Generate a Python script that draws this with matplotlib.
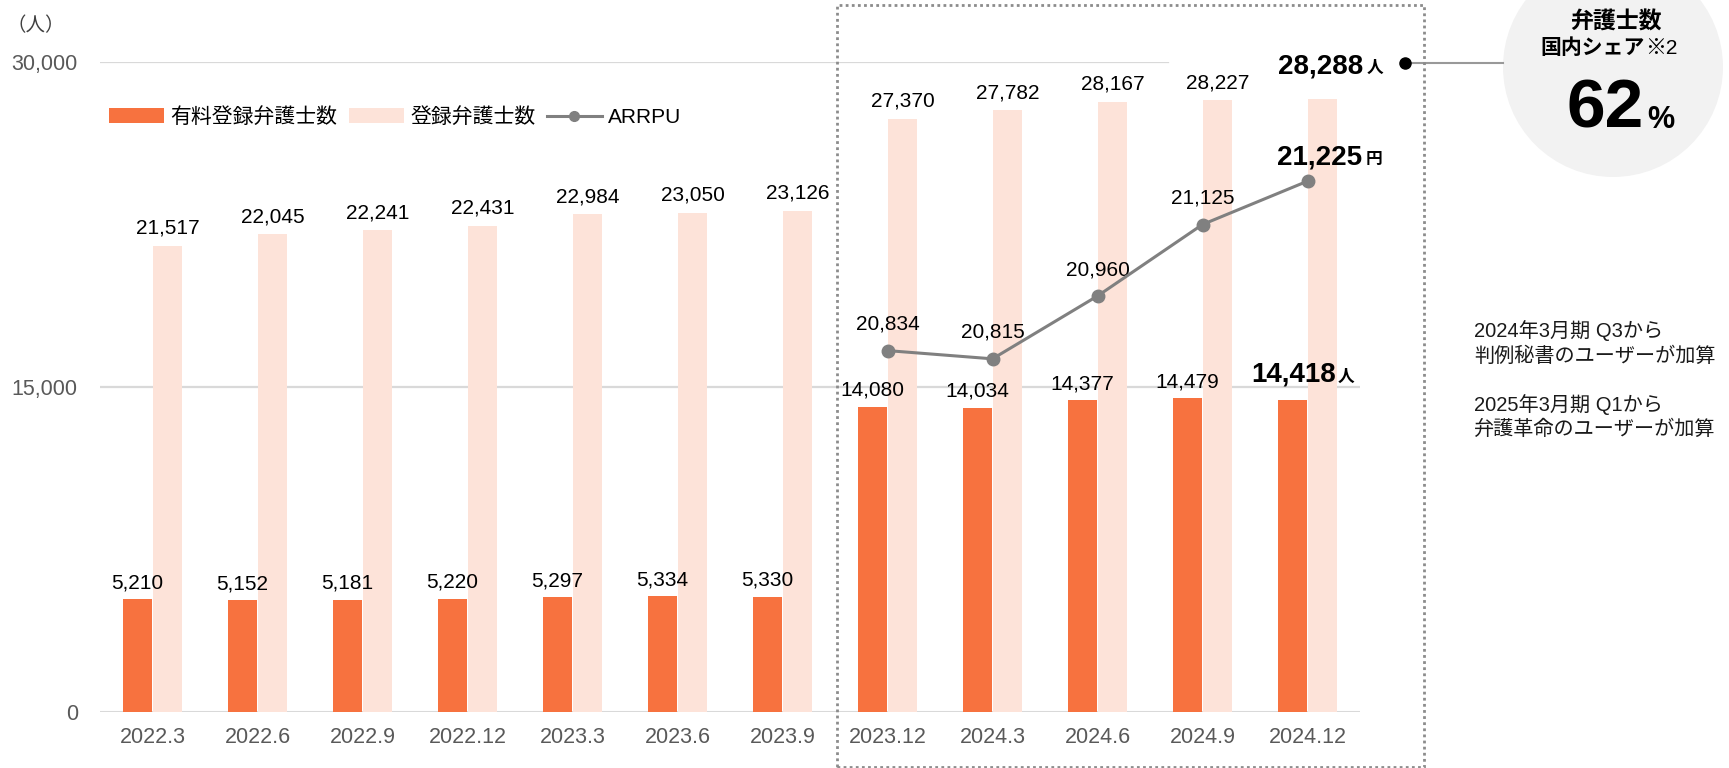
import matplotlib
matplotlib.use("Agg")
import matplotlib.pyplot as plt
from matplotlib.patches import Patch, Rectangle, Ellipse
from matplotlib.lines import Line2D

plt.rcParams['font.family'] = ['Liberation Sans', 'Noto Sans CJK JP', 'DejaVu Sans']

# data
periods = ['2022.3', '2022.6', '2022.9', '2022.12', '2023.3', '2023.6', '2023.9',
           '2023.12', '2024.3', '2024.6', '2024.9', '2024.12']
paid_users = [5210, 5152, 5181, 5220, 5297, 5334, 5330,
              14080, 14034, 14377, 14479, 14418]
registered = [21517, 22045, 22241, 22431, 22984, 23050, 23126,
              27370, 27782, 28167, 28227, 28288]
arrpu_idx = [7, 8, 9, 10, 11]
arrpu = [20834, 20815, 20960, 21125, 21225]

ORANGE = '#F7723F'
PINK = '#FDE3D9'
GRAY_LINE = '#808080'
TICK_GRAY = '#595959'
W, H = 1729, 768

fig = plt.figure(figsize=(W / 100, H / 100), dpi=100)
ax = fig.add_axes([100 / W, 1 - 712 / H, 1260 / W, 650 / H])

x = list(range(len(periods)))
bw = 0.28
xo = [i - 0.145 for i in x]
xp = [i + 0.145 for i in x]
ax.bar(xo, paid_users, width=bw, color=ORANGE, zorder=3)
ax.bar(xp, registered, width=bw, color=PINK, zorder=3)

ax.set_xlim(-0.5, len(periods) - 0.5)
ax.set_ylim(0, 30000)
ax.set_yticks([0, 15000, 30000])
ax.set_yticklabels(['0', '15,000', '30,000'])
ax.set_xticks(x)
ax.set_xticklabels(periods)
ax.tick_params(axis='both', length=0, labelsize=15.5, labelcolor=TICK_GRAY)
ax.tick_params(axis='y', pad=16)
ax.tick_params(axis='x', pad=11)
for s in ax.spines.values():
    s.set_visible(False)

# gridlines (top one is cut short by the highlighted label)
ax.axhline(0, color='#d9d9d9', lw=2.2, zorder=1)
ax.axhline(15000, color='#d9d9d9', lw=1.6, zorder=1)
ax.axhline(30000, xmax=0.848, color='#d9d9d9', lw=1.6, zorder=1)

# value labels
last = len(periods) - 1
for i in x:
    if i == last:
        continue
    ax.annotate(f'{paid_users[i]:,}', (xo[i], paid_users[i]), xytext=(0, 11),
                textcoords='offset pixels', ha='center', va='baseline', fontsize=15)
    ax.annotate(f'{registered[i]:,}', (xp[i], registered[i]), xytext=(0, 12),
                textcoords='offset pixels', ha='center', va='baseline', fontsize=15)

# highlighted last values
ax.annotate(f'{paid_users[last]:,}', (xo[last], paid_users[last]), xytext=(1, 18),
            textcoords='offset pixels', ha='center', va='baseline', fontsize=20, fontweight='bold')
ax.annotate('人', (xo[last], paid_users[last]), xytext=(45, 18),
            textcoords='offset pixels', ha='left', va='baseline', fontsize=12, fontweight='bold')
ax.annotate(f'{registered[last]:,}', (xp[last], registered[last]), xytext=(-2, 26),
            textcoords='offset pixels', ha='center', va='baseline', fontsize=20, fontweight='bold')
ax.annotate('人', (xp[last], registered[last]), xytext=(44, 26),
            textcoords='offset pixels', ha='left', va='baseline', fontsize=12, fontweight='bold')

# ARRPU line on hidden secondary axis
ax2 = ax.twinx()
ax2.set_ylim(20000, 21500)
ax2.axis('off')
ax2.plot(arrpu_idx, arrpu, color=GRAY_LINE, lw=2.2, marker='o', markersize=9, zorder=4)
for k, (i, v) in enumerate(zip(arrpu_idx, arrpu)):
    if k == len(arrpu) - 1:
        ax2.annotate(f'{v:,}', (i, v), xytext=(12, 17), textcoords='offset pixels',
                     ha='center', va='baseline', fontsize=20, fontweight='bold')
        ax2.annotate('円', (i, v), xytext=(58, 17), textcoords='offset pixels',
                     ha='left', va='baseline', fontsize=12, fontweight='bold')
    else:
        ax2.annotate(f'{v:,}', (i, v), xytext=(0, 21), textcoords='offset pixels',
                     ha='center', va='baseline', fontsize=15)

# legend
handles = [Patch(facecolor=ORANGE, edgecolor='none'),
           Patch(facecolor=PINK, edgecolor='none'),
           Line2D([], [], color=GRAY_LINE, lw=2.2, marker='o', markersize=7)]
fig.legend(handles, ['有料登録弁護士数', '登録弁護士数', 'ARRPU'], ncol=3,
           loc='center left', bbox_to_anchor=(109 / W, 1 - 117 / H), frameon=False,
           fontsize=15, handlelength=2.64, handleheight=0.72, handletextpad=0.3,
           columnspacing=0.55, borderpad=0, borderaxespad=0)

# unit label
fig.text(6 / W, 1 - 26 / H, '（人）', fontsize=14, color='#404040', va='center', ha='left')

# dotted highlight box
fig.patches.append(Rectangle((837 / W, 1 - 767 / H), (1424 - 837) / W, 762 / H,
                             transform=fig.transFigure, fill=False, edgecolor='#8c8c8c',
                             lw=2, linestyle=(0, (1, 1.2)), zorder=5))

# share circle
fig.patches.append(Ellipse((1613 / W, 1 - 67 / H), 220 / W, 220 / H,
                           transform=fig.transFigure, facecolor='#f2f2f2',
                           edgecolor='none', zorder=0))
fig.add_artist(Line2D([1405 / W, 1503 / W], [1 - 63 / H, 1 - 63 / H],
                      transform=fig.transFigure, color='#999999', lw=1.5))
fig.add_artist(Line2D([1405 / W], [1 - 63 / H], transform=fig.transFigure,
                      color='black', marker='o', markersize=8, lw=0))
fig.text(1616 / W, 1 - 22 / H, '弁護士数', fontsize=16.5, fontweight='bold',
         ha='center', va='center')
fig.text(1645 / W, 1 - 48 / H, '国内シェア', fontsize=15, fontweight='bold',
         ha='right', va='center')
fig.text(1645 / W, 1 - 48 / H, '※2', fontsize=15, ha='left', va='center')
fig.text(1644 / W, 1 - 128 / H, '62', fontsize=50, fontweight='bold',
         ha='right', va='baseline')
fig.text(1647 / W, 1 - 128 / H, '%', fontsize=22, fontweight='bold',
         ha='left', va='baseline')

# notes on the right
notes = ['2024年3月期 Q3から', '判例秘書のユーザーが加算',
         '2025年3月期 Q1から', '弁護革命のユーザーが加算']
note_y = [331, 356, 405, 429]
for t, yy in zip(notes, note_y):
    fig.text(1474 / W, 1 - yy / H, t, fontsize=14.5, color='#1a1a1a',
             ha='left', va='center')

fig.savefig('out.png', dpi=100)
